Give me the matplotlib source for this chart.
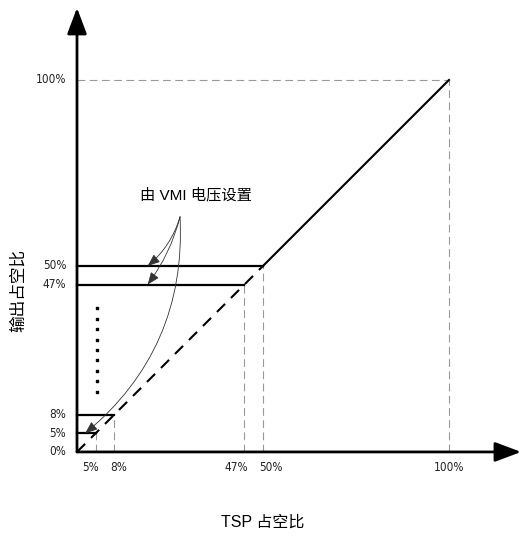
import matplotlib.pyplot as plt

plt.rcParams['font.family'] = ['Liberation Sans', 'Noto Sans CJK SC', 'DejaVu Sans']

# schematic positions (the picture is not to scale) and their labels
tick_pos = [5, 10, 45, 50, 100]
tick_labels = ["5%", "8%", "47%", "50%", "100%"]
tick_ha = ["right", "left", "right", "left", "center"]
ytick_pos = [0, 5, 10, 45, 50, 100]
ytick_labels = ["0%", "5%", "8%", "47%", "50%", "100%"]

# VMI-set output levels (solid horizontal lines) and where they meet the diagonal
level_pos = [5, 10, 45, 50]
# linear part of the curve
diag_x = [0, 50]
solid_x = [50, 100]

dots_y = [16.2, 19.0, 21.8, 24.6, 27.4, 30.2, 33.0, 35.8, 38.8]
dots_x = 5.3

note_text = "由 VMI 电压设置"
note_xy = (32, 69)
arrow_from = (27.7, 63.2)
arrow_to = [(19, 50), (19, 45), (2.2, 5)]
arrow_rad = [-0.15, -0.1, -0.25]

fig = plt.figure(figsize=(5.23, 5.36), dpi=100)
ax = fig.add_axes([0, 0, 1, 1])
ax.set_xlim(-20.7, 119.9)
ax.set_ylim(-22.6, 121.5)
ax.axis("off")

# guide lines
gray = "#999999"
for p in tick_pos:
    ax.plot([p, p], [0, p], color=gray, lw=0.8, dashes=(7, 4))
ax.plot([0, 100], [100, 100], color=gray, lw=0.8, dashes=(7, 4))

# curve
ax.plot(diag_x, diag_x, color="black", lw=1.5, dashes=(5.5, 4))
ax.plot(solid_x, solid_x, color="black", lw=1.5)
for lv in level_pos:
    ax.plot([0, lv], [lv, lv], color="black", lw=1.6)

ax.scatter([dots_x] * len(dots_y), dots_y, marker="s", s=4, color="black")

# axes with arrows
ax.annotate("", xy=(0, 119.4), xytext=(0, 0),
            arrowprops=dict(arrowstyle="-|>,head_length=0.8,head_width=0.3",
                            mutation_scale=20, lw=2, color="black", shrinkA=0, shrinkB=0))
ax.annotate("", xy=(119.4, 0), xytext=(0, 0),
            arrowprops=dict(arrowstyle="-|>,head_length=0.8,head_width=0.3",
                            mutation_scale=20, lw=2, color="black", shrinkA=0, shrinkB=0))

shift = {"right": 2.5, "left": -2.5, "center": 0}
for p, lab, ha in zip(tick_pos, tick_labels, tick_ha):
    ax.annotate(lab, (p, 0), xytext=(shift[ha], -11), textcoords="offset points",
                ha=ha, va="center", fontsize=8.5, family=["DejaVu Sans"],
                fontstretch="condensed", color="#222222")
for p, lab in zip(ytick_pos, ytick_labels):
    ax.text(-2.9, p, lab, ha="right", va="center", fontsize=8.5,
            family=["DejaVu Sans"], fontstretch="condensed", color="#222222")

ax.text(50, -19, "TSP 占空比", ha="center", va="center", fontsize=11.5)
ax.text(-15.8, 43.5, "输出占空比", ha="center", va="center", fontsize=12, rotation=90,
        family=["Noto Sans CJK SC"])

ax.text(note_xy[0], note_xy[1], note_text, ha="center", va="center", fontsize=11)
for (tx, ty), r in zip(arrow_to, arrow_rad):
    ax.annotate("", xy=(tx, ty), xytext=arrow_from,
                arrowprops=dict(arrowstyle="-|>,head_length=0.5,head_width=0.2",
                                connectionstyle=f"arc3,rad={r}", lw=0.6,
                                color="#333333", shrinkA=0, shrinkB=0,
                                mutation_scale=15))

fig.savefig("out.png", dpi=100)
